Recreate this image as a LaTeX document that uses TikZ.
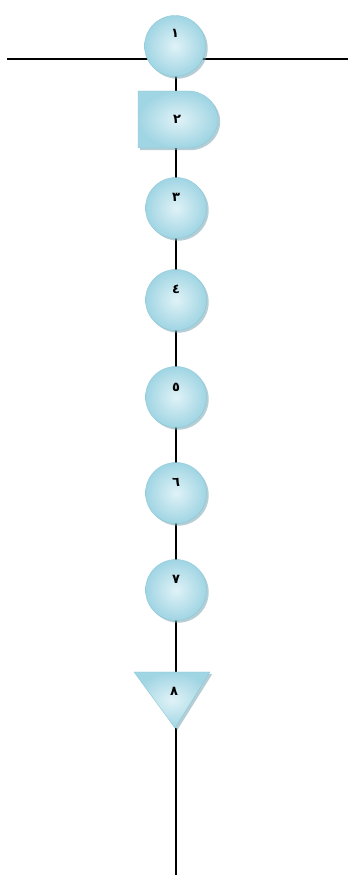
\documentclass[tikz,border=0pt]{standalone}
\usepackage{fontspec}
\newfontfamily\arabicfont[Script=Arabic]{DejaVu Sans}
\usetikzlibrary{backgrounds,shadows}
\definecolor{inblue}{RGB}{224,242,247}
\definecolor{outblue}{RGB}{160,213,227}
\definecolor{edgeblue}{RGB}{140,200,216}
\definecolor{shblue}{RGB}{120,165,180}
\tikzset{
  conn/.style={line width=1.6pt,black},
  shapefill/.style={shading=radial,inner color=inblue,outer color=outblue,draw=edgeblue,line width=0.4pt,
    drop shadow={shadow xshift=2.2pt,shadow yshift=-2.2pt,fill=shblue,opacity=0.55}},
  opcircle/.style={circle,minimum size=61pt,inner sep=0pt,shapefill},
  lbl/.style={font=\arabicfont\bfseries\fontsize{13}{13}\selectfont,text=black,inner sep=0pt},
  anchorbox/.style={inner sep=0pt,minimum width=#1,minimum height=2pt},
}
\begin{document}
\begin{tikzpicture}[x=1pt,y=1pt]
\useasboundingbox (0,0) rectangle (355,877);
% circles
\node[opcircle] (n1) at (175,831) {};
\node[lbl] at (175,844) {١};
% D shape (delay)
\path[shapefill] (138,786) -- (188,786) arc[start angle=90,end angle=-90,x radius=30,y radius=28.5] -- (138,729) -- cycle;
\node[anchorbox=40pt] (n2t) at (176,786) {};
\node[anchorbox=40pt] (n2b) at (176,729) {};
\node[lbl] (n2) at (177,758) {٢};
\node[opcircle] (n3) at (176,669) {};
\node[lbl] at (176,680) {٣};
\node[opcircle] (n4) at (176,577) {};
\node[lbl] at (176,588) {٤};
\node[opcircle] (n5) at (176,480) {};
\node[lbl] at (176,490) {٥};
\node[opcircle] (n6) at (176,384) {};
\node[lbl] at (176,395) {٦};
\node[opcircle] (n7) at (176,287) {};
\node[lbl] at (176,298) {٧};
% triangle (storage)
\path[shapefill] (134,205) -- (210,205) -- (175,149) -- cycle;
\node[anchorbox=40pt] (n8t) at (176,205) {};
\node[anchorbox=2pt] (n8b) at (176,149) {};
\node[lbl] (n8) at (174,186) {٨};
\coordinate (L) at (7,818);
\coordinate (R) at (348,818);
\coordinate (T) at (176,831);
\coordinate (B) at (176,2);
\begin{pgfonlayer}{background}
\draw[conn] (L) -- (R);
\draw[conn] (T) -- (n2t.center);
\draw[conn] (n2b.center) -- (n3.center);
\draw[conn] (n3.center) -- (n4.center);
\draw[conn] (n4.center) -- (n5.center);
\draw[conn] (n5.center) -- (n6.center);
\draw[conn] (n6.center) -- (n7.center);
\draw[conn] (n7.center) -- (n8t.center);
\draw[conn] (n8b.center) -- (B);
\end{pgfonlayer}
\end{tikzpicture}
\end{document}
